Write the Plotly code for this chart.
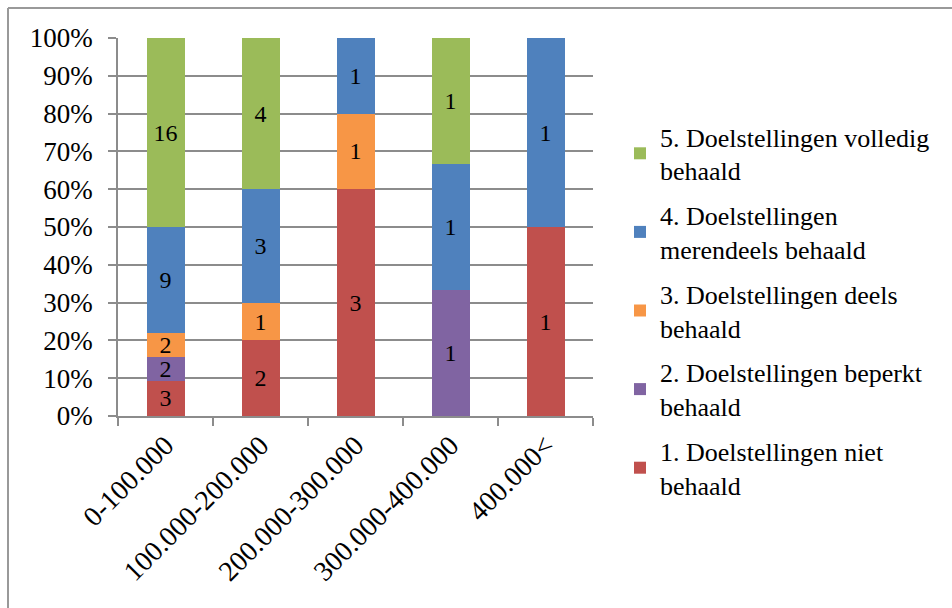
import plotly.graph_objects as go

categories = ["0-100.000", "100.000-200.000", "200.000-300.000", "300.000-400.000", "400.000<"]
series_names = [
    "1. Doelstellingen niet<br>behaald",
    "2. Doelstellingen beperkt<br>behaald",
    "3. Doelstellingen deels<br>behaald",
    "4. Doelstellingen<br>merendeels behaald",
    "5. Doelstellingen volledig<br>behaald",
]
niet = [3, 2, 3, 0, 1]
beperkt = [2, 0, 0, 1, 0]
deels = [2, 1, 1, 0, 0]
merendeels = [9, 3, 1, 1, 1]
volledig = [16, 4, 0, 1, 0]
colors = ["#C0504D", "#8064A2", "#F79646", "#4F81BD", "#9BBB59"]
y_ticks = [0, 10, 20, 30, 40, 50, 60, 70, 80, 90, 100]

FONT = "Liberation Serif"
W, H = 952, 608
L, R, T, B = 118, 952 - 593, 38, 608 - 416

fig = go.Figure()
for i, (name, vals, col) in enumerate(zip(series_names, [niet, beperkt, deels, merendeels, volledig], colors)):
    fig.add_trace(go.Bar(
        x=categories, y=vals, name=name, marker=dict(color=col, line=dict(width=0)),
        text=[str(v) if v else "" for v in vals], textposition="inside",
        insidetextanchor="middle", textangle=0,
        textfont=dict(family=FONT, size=24, color="black"),
        legendgroup=name, legendrank=5 - i,
    ))

pw, ph = W - L - R, H - T - B
def px(x):
    return (x - L) / pw
def py(y):
    return (H - B - y) / ph

fig.update_layout(
    width=W, height=H, barmode="stack", barnorm="percent", bargap=0.6,
    margin=dict(l=L, r=R, t=T, b=B, autoexpand=False),
    paper_bgcolor="white", plot_bgcolor="white",
    font=dict(family=FONT, size=26, color="black"),
    uniformtext=dict(minsize=20, mode="show"),
    xaxis=dict(showline=True, linecolor="#8c8c8c", linewidth=1.5, ticks="outside",
               tickson="boundaries", ticklen=8, tickcolor="#8c8c8c", tickwidth=1.5,
               tickangle=-45, tickfont=dict(family=FONT, size=28), showgrid=False),
    yaxis=dict(range=[0, 100], tickvals=y_ticks, ticktext=[f"{v}%" for v in y_ticks],
               showgrid=True, gridcolor="#8c8c8c", gridwidth=1.5,
               showline=True, linecolor="#8c8c8c", linewidth=1.5,
               ticks="outside", ticklen=8, tickcolor="#8c8c8c", tickwidth=1.5,
               ticklabelstandoff=10,
               tickfont=dict(family=FONT, size=27), zeroline=False),
    legend=dict(x=px(620), y=py(113), xanchor="left", yanchor="top",
                traceorder="grouped", tracegroupgap=8, maxheight=560,
                font=dict(family=FONT, size=26), itemwidth=30,
                bgcolor="rgba(0,0,0,0)"),
    shapes=[
        dict(type="line", xref="paper", yref="paper", x0=px(8), x1=px(960), y0=py(8), y1=py(8),
             line=dict(color="#999999", width=2)),
        dict(type="line", xref="paper", yref="paper", x0=px(8), x1=px(8), y0=py(8), y1=py(620),
             line=dict(color="#999999", width=2)),
    ],
)
fig.write_html("out.html")
